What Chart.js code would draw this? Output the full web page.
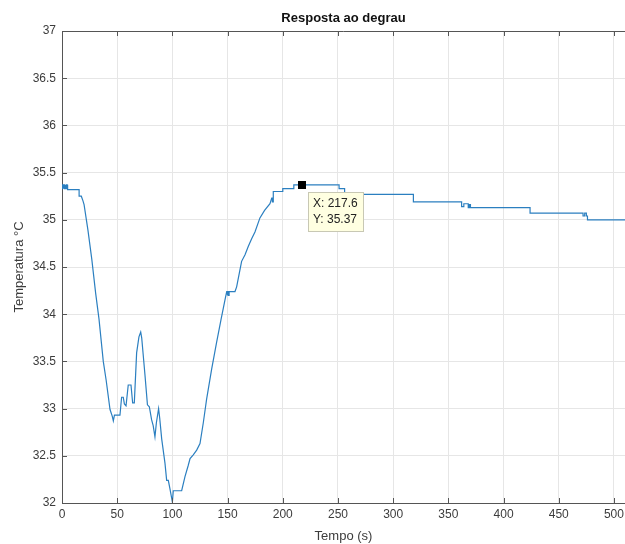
<!DOCTYPE html>
<html>
<head>
<meta charset="utf-8">
<script src="https://cdn.jsdelivr.net/npm/chart.js@4/dist/chart.umd.min.js"></script>
<style>
html,body{margin:0;padding:0;background:#fff;}
#wrap{width:625px;height:544px;position:relative;}
</style>
</head>
<body>
<div id="wrap"><canvas id="c" width="625" height="544"></canvas></div>
<script>
const chartTitle = "Resposta ao degrau";
const xAxisTitle = "Tempo (s)";
const yAxisTitle = "Temperatura °C";

const tempoS = [
  0,0.5,0.5,1.1,1.1,1.7,1.7,2.3,2.3,2.9,2.9,3.5,3.5,4.1,4.1,4.7,4.7,5.3,5.3,
  15.5,15.5,17.5,19,
  20,23.5,27,30.5,33.5,37.4,40,43.5,45.5,46.5,47.5,52.5,54,55.5,56.5,58,60,62.5,64,65.5,67.6,69.7,71.3,72.2,75.2,77.4,79.1,81.2,82.6,84.2,85.5,87.5,88.5,90.3,93.3,94.8,96.3,97.8,100,100.8,108.4,111.4,114.4,116,118.9,122,125,128,131,135.6,140,144,147.6,
  149.2,149.6,149.6,150.2,150.2,150.8,150.8,151.4,151.4,156.7,
  158.2,161.2,162.7,165.8,168.8,171.8,174.8,179.3,183.5,188.4,
  190,190.6,190.6,191.2,191.4,200,200,210,210,217.6,251,251,256,256,318.3,318.3,362,362,364,364,368,368,369,369,370,370,424,424,472,472,473.5,473.5,475,475,476,476,510
];
const temperaturaC = [
  35.33,35.33,35.37,35.37,35.33,35.33,35.37,35.37,35.33,35.33,35.37,35.37,35.33,35.33,35.37,35.37,35.33,35.33,35.32,
  35.32,35.25,35.25,35.2,
  35.16,34.89,34.58,34.22,33.95,33.5,33.3,32.99,32.92,32.87,32.93,32.93,33.12,33.12,33.05,33.03,33.25,33.25,33.06,33.06,33.59,33.76,33.81,33.75,33.35,33.04,33.02,32.88,32.82,32.7,32.85,33.0,32.9,32.68,32.42,32.24,32.24,32.15,32.01,32.13,32.13,32.28,32.4,32.47,32.51,32.56,32.63,32.85,33.1,33.42,33.7,33.94,34.15,
  34.24,34.24,34.2,34.2,34.24,34.24,34.2,34.2,34.24,34.24,
  34.29,34.47,34.56,34.63,34.72,34.8,34.87,35.02,35.1,35.17,
  35.23,35.23,35.19,35.19,35.3,35.3,35.33,35.33,35.37,35.37,35.37,35.33,35.33,35.27,35.27,35.19,35.19,35.14,35.14,35.17,35.17,35.13,35.13,35.16,35.16,35.13,35.13,35.07,35.07,35.04,35.04,35.07,35.07,35.04,35.04,35.0,35.0
];

const xTicks = [0,50,100,150,200,250,300,350,400,450,500];
const yTicks = [32,32.5,33,33.5,34,34.5,35,35.5,36,36.5,37];

const datatipX = 217.6;
const datatipY = 35.37;
const datatipLines = ["X: 217.6", "Y: 35.37"];

const points = tempoS.map((t, i) => ({x: t, y: temperaturaC[i]}));

const AXIS_COLOR = '#555555';
const TEXT_COLOR = '#3c3c3c';
const FONT = '"Liberation Sans", Arial, Helvetica, sans-serif';

const boxPlugin = {
  id: 'matlabBox',
  afterDraw(chart) {
    const {ctx, chartArea: a, scales: {x, y}} = chart;
    ctx.save();
    ctx.strokeStyle = AXIS_COLOR;
    ctx.lineWidth = 1;
    ctx.beginPath();
    ctx.moveTo(a.left, Math.round(a.top) + 0.5);
    ctx.lineTo(a.right, Math.round(a.top) + 0.5);
    ctx.stroke();
    ctx.beginPath();
    xTicks.forEach(v => {
      const px = Math.round(x.getPixelForValue(v)) + 0.5;
      ctx.moveTo(px, a.bottom); ctx.lineTo(px, a.bottom - 5);
      ctx.moveTo(px, a.top); ctx.lineTo(px, a.top + 5);
    });
    yTicks.forEach(v => {
      const py = Math.round(y.getPixelForValue(v)) + 0.5;
      ctx.moveTo(a.left, py); ctx.lineTo(a.left + 5, py);
    });
    ctx.stroke();

    const mx = x.getPixelForValue(datatipX);
    const my = y.getPixelForValue(datatipY);
    ctx.fillStyle = '#000';
    ctx.fillRect(Math.round(mx) - 4, Math.round(my) - 4, 8, 8);
    const bx = Math.round(mx) + 6, by = Math.round(my) + 7, bw = 56, bh = 40;
    ctx.fillStyle = '#ffffe1';
    ctx.fillRect(bx, by, bw, bh);
    ctx.strokeStyle = '#c8c8b4';
    ctx.strokeRect(bx + 0.5, by + 0.5, bw - 1, bh - 1);
    ctx.fillStyle = '#222';
    ctx.font = '12px ' + FONT;
    ctx.textBaseline = 'middle';
    ctx.textAlign = 'left';
    ctx.fillText(datatipLines[0], bx + 5, by + 12);
    ctx.fillText(datatipLines[1], bx + 5, by + 28);
    ctx.restore();
  }
};

new Chart(document.getElementById('c'), {
  type: 'line',
  data: {
    datasets: [{
      data: points,
      borderColor: '#2b7fc0',
      borderWidth: 1.2,
      pointRadius: 0,
      fill: false,
      tension: 0
    }]
  },
  options: {
    responsive: false,
    animation: false,
    events: [],
    layout: {padding: {left: 0, right: 0, top: 0, bottom: 0}},
    plugins: {
      legend: {display: false},
      tooltip: {enabled: false},
      title: {
        display: true,
        text: chartTitle,
        fullSize: false,
        color: '#111',
        font: {family: FONT, size: 13, weight: 'bold'},
        padding: {top: 11, bottom: 4.4}
      }
    },
    scales: {
      x: {
        type: 'linear',
        min: 0,
        max: 510,
        afterFit: s => { s.height = 41; s.paddingLeft = 0; s.paddingRight = 0; },
        afterBuildTicks: s => { s.ticks = xTicks.map(v => ({value: v})); },
        ticks: {
          color: TEXT_COLOR,
          font: {family: FONT, size: 12},
          padding: 4,
          maxRotation: 0,
          autoSkip: false,
          includeBounds: false
        },
        grid: {color: '#e6e6e6', lineWidth: 1, tickLength: 0, drawTicks: false},
        border: {color: AXIS_COLOR, width: 1},
        title: {
          display: true,
          text: xAxisTitle,
          color: TEXT_COLOR,
          font: {family: FONT, size: 13},
          padding: {top: 0, bottom: 0}
        }
      },
      y: {
        type: 'linear',
        min: 32,
        max: 37,
        afterFit: s => { s.width = 62; s.paddingTop = 0; s.paddingBottom = 0; },
        afterBuildTicks: s => { s.ticks = yTicks.map(v => ({value: v})); },
        ticks: {
          color: TEXT_COLOR,
          font: {family: FONT, size: 12},
          padding: 6,
          autoSkip: false,
          callback: v => String(v)
        },
        grid: {color: '#e6e6e6', lineWidth: 1, tickLength: 0, drawTicks: false},
        border: {color: AXIS_COLOR, width: 1},
        title: {
          display: true,
          text: yAxisTitle,
          color: TEXT_COLOR,
          font: {family: FONT, size: 13},
          padding: {top: 12, bottom: 0}
        }
      }
    }
  },
  plugins: [boxPlugin]
});
</script>
</body>
</html>
